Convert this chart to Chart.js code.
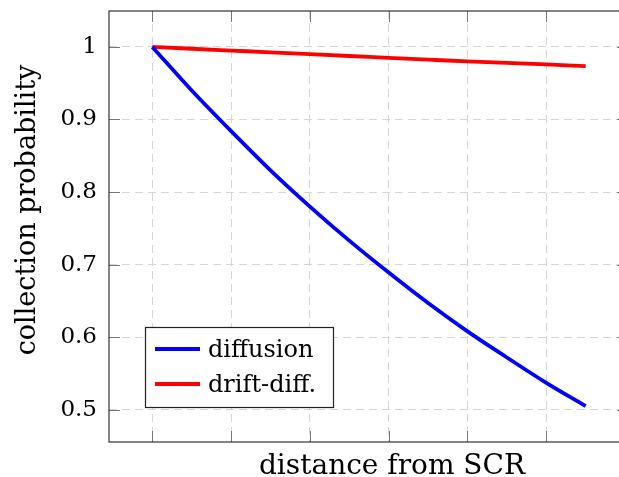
<!DOCTYPE html>
<html>
<head>
<meta charset="utf-8">
<script src="https://cdn.jsdelivr.net/npm/chart.js@4/dist/chart.umd.min.js"></script>
<style>
  html, body { margin: 0; padding: 0; background: #fff; overflow: hidden; }
  #wrap { width: 619px; height: 477px; overflow: hidden; }
  #chart { display: block; }
</style>
</head>
<body>
<div id="wrap"><canvas id="chart" width="640" height="477"></canvas></div>
<script>
// distance from SCR (arbitrary units, no tick labels in the original)
const distance = [0, 0.5, 1, 1.5, 2, 2.5, 3, 3.5, 4, 4.5, 5, 5.5];
const diffusion = [1.0, 0.94, 0.884, 0.83, 0.78, 0.733, 0.689, 0.647, 0.608, 0.572, 0.537, 0.505];
const driftDiff = [1.0, 0.9975, 0.995, 0.9925, 0.99, 0.9875, 0.985, 0.9825, 0.98, 0.978, 0.976, 0.9735];
const xTicks = [0, 1, 2, 3, 4, 5];
const yTicks = [0.5, 0.6, 0.7, 0.8, 0.9, 1];
const yTickLabels = ["0.5", "0.6", "0.7", "0.8", "0.9", "1"];

const FONT = "'DejaVu Serif', 'Liberation Serif', serif";

const toPoints = (xs, ys) => xs.map((x, i) => ({ x: x, y: ys[i] }));

// no automatic padding from the axes, the plot box is placed by hand
const noPad = (axis) => {
  axis.paddingTop = 0;
  axis.paddingBottom = 0;
  axis.paddingLeft = 0;
  axis.paddingRight = 0;
};

// frame, inward ticks, titles and the legend box (pgfplots look)
const frameAndLegend = {
  id: "frameAndLegend",
  afterDatasetsDraw(chart) {
    const { ctx, chartArea: a, scales } = chart;
    ctx.save();

    // ticks
    ctx.strokeStyle = "#777";
    ctx.lineWidth = 1;
    ctx.beginPath();
    yTicks.forEach((v) => {
      const y = Math.round(scales.y.getPixelForValue(v)) + 0.5;
      ctx.moveTo(a.left, y); ctx.lineTo(a.left + 11, y);
      ctx.moveTo(a.right, y); ctx.lineTo(a.right - 12, y);
    });
    xTicks.forEach((v) => {
      const x = Math.round(scales.x.getPixelForValue(v)) + 0.5;
      ctx.moveTo(x, a.bottom); ctx.lineTo(x, a.bottom - 11);
      ctx.moveTo(x, a.top); ctx.lineTo(x, a.top + 11);
    });
    ctx.stroke();

    // axis box (right side falls just outside the page, as in the original)
    ctx.strokeStyle = "#333";
    ctx.lineWidth = 1.2;
    ctx.strokeRect(a.left, a.top, a.right - a.left, a.bottom - a.top);

    // axis titles
    ctx.fillStyle = "#000";
    ctx.textAlign = "center";
    ctx.textBaseline = "alphabetic";
    ctx.font = "28px " + FONT;
    ctx.fillText("distance from SCR", 392, 474);
    ctx.font = "27px " + FONT;
    ctx.save();
    ctx.translate(35, 210);
    ctx.rotate(-Math.PI / 2);
    ctx.fillText("collection probability", 0, 0);
    ctx.restore();

    // legend
    const lx = 145, ly = 327, lw = 188, lh = 80;
    ctx.fillStyle = "#fff";
    ctx.fillRect(lx, ly, lw, lh);
    ctx.strokeStyle = "#222";
    ctx.lineWidth = 1.2;
    ctx.strokeRect(lx + 0.5, ly + 0.5, lw, lh);
    ctx.font = "24px " + FONT;
    ctx.textAlign = "left";
    chart.data.datasets.forEach((ds, i) => {
      const y = 349 + i * 35;
      ctx.strokeStyle = ds.borderColor;
      ctx.lineWidth = 3.8;
      ctx.beginPath();
      ctx.moveTo(155, y); ctx.lineTo(200, y);
      ctx.stroke();
      ctx.fillStyle = "#000";
      ctx.fillText(ds.label, 208, y + 8);
    });
    ctx.restore();
  },
};

new Chart(document.getElementById("chart"), {
  type: "scatter",
  data: {
    datasets: [
      {
        label: "diffusion",
        data: toPoints(distance, diffusion),
        borderColor: "#0000ff",
        backgroundColor: "#0000ff",
        borderWidth: 3.8,
        showLine: true,
        pointRadius: 0,
        cubicInterpolationMode: "monotone",
        borderCapStyle: "butt",
      },
      {
        label: "drift-diff.",
        data: toPoints(distance, driftDiff),
        borderColor: "#ff0000",
        backgroundColor: "#ff0000",
        borderWidth: 3.8,
        showLine: true,
        pointRadius: 0,
        cubicInterpolationMode: "monotone",
        borderCapStyle: "butt",
      },
    ],
  },
  options: {
    responsive: false,
    animation: false,
    layout: { autoPadding: false, padding: { left: 0, top: 11, right: 11, bottom: 0 } },
    plugins: {
      legend: { display: false },
      tooltip: { enabled: false },
    },
    scales: {
      x: {
        type: "linear",
        min: -0.55,
        max: 6.05,
        afterBuildTicks: (axis) => { axis.ticks = xTicks.map((v) => ({ value: v })); },
        afterFit: (axis) => { axis.height = 35; noPad(axis); },
        ticks: { display: false },
        grid: { color: "#d6d6d6", lineWidth: 1, drawTicks: false },
        border: { display: false, dash: [8, 5] },
      },
      y: {
        type: "linear",
        min: 0.4555,
        max: 1.0495,
        afterBuildTicks: (axis) => { axis.ticks = yTicks.map((v) => ({ value: v })); },
        afterFit: (axis) => { axis.width = 109; noPad(axis); },
        ticks: {
          padding: 12,
          color: "#000",
          font: { family: FONT, size: 23 },
          callback: (v) => {
            const i = yTicks.findIndex((t) => Math.abs(t - v) < 1e-6);
            return i >= 0 ? yTickLabels[i] : "";
          },
        },
        grid: { color: "#d6d6d6", lineWidth: 1, drawTicks: false },
        border: { display: false, dash: [8, 5] },
      },
    },
  },
  plugins: [frameAndLegend],
});
</script>
</body>
</html>
